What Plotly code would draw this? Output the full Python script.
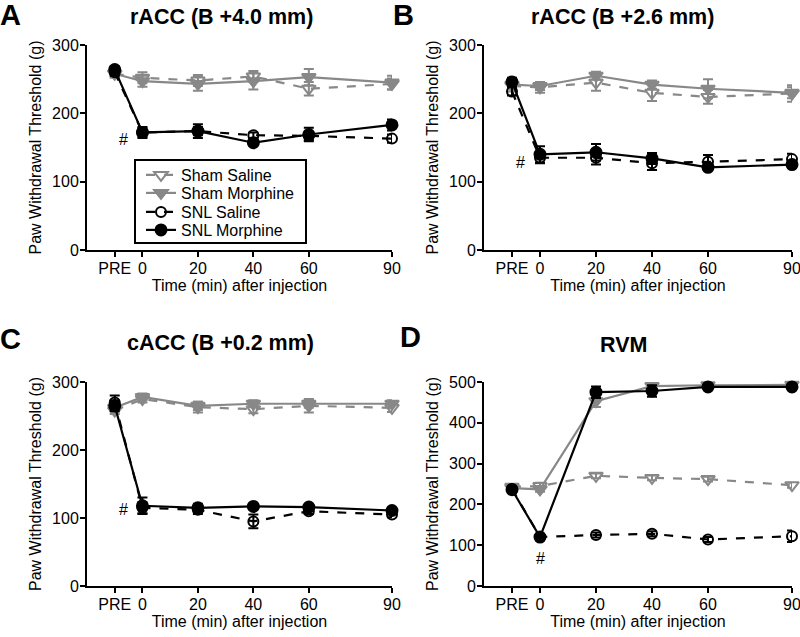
import plotly.graph_objects as go

time_labels = ["PRE", "0", "20", "40", "60", "90"]
time_x = [-10, 0, 20, 40, 60, 90]
series_names = ["Sham Saline", "Sham Morphine", "SNL Saline", "SNL Morphine"]

# Panel A: rACC (B +4.0 mm)
a_sham_sal = [258, 252, 248, 254, 236, 243]
a_sham_mor = [258, 247, 243, 247, 253, 245]
a_snl_sal = [260, 172, 174, 168, 167, 163]
a_snl_mor = [264, 172, 174, 157, 169, 183]
a_err_sham_sal = [6, 8, 8, 8, 10, 8]
a_err_sham_mor = [5, 8, 10, 12, 12, 10]
a_err_snl_sal = [5, 6, 6, 4, 6, 6]
a_err_snl_mor = [5, 8, 10, 4, 10, 8]

# Panel B: rACC (B +2.6 mm)
b_sham_sal = [240, 238, 245, 230, 224, 229]
b_sham_mor = [242, 240, 255, 242, 236, 230]
b_snl_sal = [232, 135, 135, 127, 129, 133]
b_snl_mor = [246, 140, 143, 134, 121, 125]
b_err_sham_sal = [8, 8, 12, 12, 10, 12]
b_err_sham_mor = [6, 6, 6, 6, 14, 8]
b_err_snl_sal = [6, 8, 10, 10, 10, 8]
b_err_snl_mor = [6, 12, 12, 8, 4, 4]

# Panel C: cACC (B +0.2 mm)
c_sham_sal = [258, 275, 263, 260, 265, 262]
c_sham_mor = [262, 278, 265, 268, 268, 268]
c_snl_sal = [270, 115, 112, 95, 110, 105]
c_snl_mor = [265, 118, 115, 117, 116, 111]
c_err_sham_sal = [5, 5, 8, 6, 10, 6]
c_err_sham_mor = [5, 5, 6, 5, 6, 5]
c_err_snl_sal = [10, 8, 6, 10, 4, 4]
c_err_snl_mor = [8, 12, 6, 4, 4, 4]

# Panel D: RVM
d_sham_sal = [243, 245, 270, 265, 262, 247]
d_sham_mor = [240, 237, 453, 490, 492, 493]
d_snl_sal = [238, 120, 125, 128, 114, 122]
d_snl_mor = [236, 120, 475, 478, 488, 488]
d_err_sham_sal = [6, 8, 6, 6, 6, 6]
d_err_sham_mor = [6, 6, 14, 6, 6, 6]
d_err_snl_sal = [6, 6, 6, 6, 6, 14]
d_err_snl_mor = [6, 6, 14, 14, 6, 6]

panels = [
    dict(letter="A", title="rACC (B +4.0 mm)", ymax=300, dtick=100,
         vals=[a_sham_sal, a_sham_mor, a_snl_sal, a_snl_mor],
         errs=[a_err_sham_sal, a_err_sham_mor, a_err_snl_sal, a_err_snl_mor]),
    dict(letter="B", title="rACC (B +2.6 mm)", ymax=300, dtick=100,
         vals=[b_sham_sal, b_sham_mor, b_snl_sal, b_snl_mor],
         errs=[b_err_sham_sal, b_err_sham_mor, b_err_snl_sal, b_err_snl_mor]),
    dict(letter="C", title="cACC (B +0.2 mm)", ymax=300, dtick=100,
         vals=[c_sham_sal, c_sham_mor, c_snl_sal, c_snl_mor],
         errs=[c_err_sham_sal, c_err_sham_mor, c_err_snl_sal, c_err_snl_mor]),
    dict(letter="D", title="RVM", ymax=500, dtick=100,
         vals=[d_sham_sal, d_sham_mor, d_snl_sal, d_snl_mor],
         errs=[d_err_sham_sal, d_err_sham_mor, d_err_snl_sal, d_err_snl_mor]),
]

# hash marks (x, y) per panel, and "*+" markers for RVM
hash_pos = [(-7, 162), (-7, 128), (-7, 112), (0, 68)]
star_x = [20, 40, 60, 90]
star_y = 522

GRAY = "#888888"
BLACK = "#000000"
styles = [
    dict(color=GRAY, dash="dash", symbol="triangle-down-open", size=12),
    dict(color=GRAY, dash="solid", symbol="triangle-down", size=12),
    dict(color=BLACK, dash="dash", symbol="circle-open", size=10),
    dict(color=BLACK, dash="solid", symbol="circle", size=11),
]

FONT = "Arial, Liberation Sans, sans-serif"
W, H = 800, 637
# pixel geometry of plot areas (left, right, top, bottom)
boxes = [(87, 392, 45, 250), (484, 792, 45, 250), (87, 392, 382, 586), (484, 792, 382, 586)]
# title centres (x px, y px) and letter positions (left px, centre y px)
title_pos = [(221, 17), (622, 17), (220, 343), (623, 345)]
letter_pos = [(0, 15), (393, 15), (0, 339), (400, 337)]
# legend geometry (box px and entry centre rows)
legend_box = (135, 160, 306, 243)
legend_rows = [175, 193, 212, 230]
legend_ids = ["legend", "legend2", "legend3", "legend4"]

fig = go.Figure()
annotations = []
for i, p in enumerate(panels):
    ax = "" if i == 0 else str(i + 1)
    for j in range(4):
        s = styles[j]
        fig.add_trace(go.Scatter(
            x=time_x, y=p["vals"][j], name=series_names[j],
            xaxis="x" + ax, yaxis="y" + ax,
            mode="lines+markers",
            line=dict(color=s["color"], dash=s["dash"], width=2.2),
            marker=dict(symbol=s["symbol"], size=s["size"], color=s["color"],
                        line=dict(color=s["color"], width=2)),
            error_y=dict(type="data", array=p["errs"][j], color=s["color"],
                         thickness=2, width=5),
            showlegend=(i == 0), legend=legend_ids[j], cliponaxis=False,
        ))
    l, r, t, b = boxes[i]
    xd = [l / W, r / W]
    yd = [(H - b) / H, (H - t) / H]
    common = dict(showline=True, linecolor="black", linewidth=2, ticks="outside",
                  ticklen=5, tickwidth=2, tickcolor="black", showgrid=False,
                  zeroline=False, automargin=False, ticklabeloverflow="allow",
                  ticklabelstandoff=-2,
                  tickfont=dict(family=FONT, size=16, color="black"))
    fig.update_layout(**{
        "xaxis" + ax: dict(domain=xd, range=[-20, 90], tickvals=time_x, ticktext=time_labels,
                           anchor="y" + ax,
                           title=dict(text="Time (min) after injection",
                                      font=dict(family=FONT, size=16, color="black"), standoff=4),
                           **common),
        "yaxis" + ax: dict(domain=yd, range=[0, p["ymax"]], dtick=p["dtick"], anchor="x" + ax,
                           title=dict(text="Paw Withdrawal Threshold (g)",
                                      font=dict(family=FONT, size=16, color="black"), standoff=6),
                           **common),
    })
    tx, ty = title_pos[i]
    annotations.append(dict(text="<b>%s</b>" % p["title"], x=tx / W, y=(H - ty) / H,
                            xref="paper", yref="paper", showarrow=False, xanchor="center", yanchor="middle",
                            font=dict(family=FONT, size=21.5, color="black")))
    lx, ly = letter_pos[i]
    annotations.append(dict(text="<b>%s</b>" % p["letter"], x=lx / W, y=(H - ly) / H,
                            xref="paper", yref="paper", showarrow=False, xanchor="left", yanchor="middle",
                            xshift=-2, font=dict(family=FONT, size=29, color="black")))
    hx, hy = hash_pos[i]
    annotations.append(dict(text="#", x=hx, y=hy, xref="x" + ax, yref="y" + ax, showarrow=False,
                            font=dict(family=FONT, size=16, color="black")))

for sx in star_x:
    annotations.append(dict(text="* +", x=sx, y=star_y, xref="x4", yref="y4", showarrow=False,
                            font=dict(family=FONT, size=16, color="black")))

bx0, by0, bx1, by1 = legend_box
shapes = [dict(type="rect", xref="paper", yref="paper", x0=bx0 / W, x1=bx1 / W,
               y0=(H - by1) / H, y1=(H - by0) / H, line=dict(color="black", width=2),
               fillcolor="white", layer="below")]

legend_layout = {}
for k, lid in enumerate(legend_ids):
    legend_layout[lid] = dict(x=141 / W, y=(H - legend_rows[k]) / H, xanchor="left", yanchor="middle",
                              borderwidth=0, bgcolor="rgba(0,0,0,0)",
                              font=dict(family=FONT, size=16, color="black"))

fig.update_layout(
    width=W, height=H, margin=dict(l=0, r=0, t=0, b=0, autoexpand=False),
    paper_bgcolor="white", plot_bgcolor="white",
    annotations=annotations, shapes=shapes,
    font=dict(family=FONT),
    **legend_layout,
)

fig.write_html("out.html", config={"displayModeBar": False},
               post_script="document.body.style.margin='0';document.body.style.overflow='hidden';")
